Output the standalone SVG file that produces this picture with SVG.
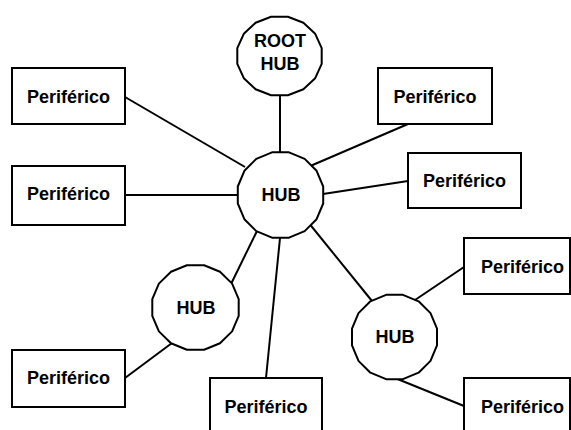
<svg xmlns="http://www.w3.org/2000/svg" width="571" height="430" viewBox="0 0 571 430">
<style>
.box{fill:#fff;stroke:#000;stroke-width:2}
.hub{fill:#fff;stroke:#000;stroke-width:2;stroke-linejoin:round}
.lbl{font-family:"Liberation Sans",Arial,sans-serif;font-weight:bold;font-size:18px;text-anchor:middle;fill:#000}
.edge{stroke:#000;stroke-width:2;fill:none}
</style>
<rect width="571" height="430" fill="#fff"/>
<g id="connectors">
<line class="edge" x1="280" y1="95" x2="280" y2="152"/>
<line class="edge" x1="125" y1="97" x2="245" y2="167"/>
<line class="edge" x1="125" y1="195" x2="238" y2="195"/>
<line class="edge" x1="308" y1="167" x2="408" y2="124"/>
<line class="edge" x1="323" y1="194" x2="408" y2="181"/>
<line class="edge" x1="257" y1="231" x2="231" y2="284"/>
<line class="edge" x1="280" y1="238" x2="266" y2="378"/>
<line class="edge" x1="308" y1="222" x2="372" y2="301"/>
<line class="edge" x1="415" y1="300" x2="464" y2="267"/>
<line class="edge" x1="395" y1="378" x2="464" y2="406"/>
<line class="edge" x1="172" y1="343" x2="125" y2="378"/>
</g>
<g id="roothub">
<polygon class="hub" points="321.7,63.8 315.2,78.2 303.4,89.2 287.9,95.2 271.1,95.2 255.6,89.2 243.8,78.2 237.3,63.8 237.3,48.2 243.8,33.8 255.6,22.8 271.1,16.8 287.9,16.8 303.4,22.8 315.2,33.8 321.7,48.2"/>
<text class="lbl" x="280" y="47">ROOT</text>
<text class="lbl" x="280" y="70">HUB</text>
</g>
<g id="hub-main">
<polygon class="hub" points="323.2,203.5 316.6,219.2 304.7,231.1 289,237.7 272,237.7 256.3,231.1 244.4,219.2 237.8,203.5 237.8,186.5 244.4,170.8 256.3,158.9 272,152.3 289,152.3 304.7,158.9 316.6,170.8 323.2,186.5"/>
<text class="lbl" x="281" y="201">HUB</text>
</g>
<g id="hub-left">
<polygon class="hub" points="238.7,315.9 232.1,331.4 220,343.2 204.1,349.7 186.9,349.7 171,343.2 158.9,331.4 152.3,315.9 152.3,299.1 158.9,283.6 171,271.8 186.9,265.3 204.1,265.3 220,271.8 232.1,283.6 238.7,299.1"/>
<text class="lbl" x="196" y="313.5">HUB</text>
</g>
<g id="hub-right">
<polygon class="hub" points="437,345.4 430.5,360.9 418.6,372.7 402.9,379.2 386.1,379.2 370.4,372.7 358.5,360.9 352,345.4 352,328.6 358.5,313.1 370.4,301.3 386.1,294.8 402.9,294.8 418.6,301.3 430.5,313.1 437,328.6"/>
<text class="lbl" x="395" y="342.5">HUB</text>
</g>
<g id="p1"><rect class="box" x="12" y="68" width="113" height="56"/><text class="lbl" x="68.5" y="103">Periférico</text></g>
<g id="p2"><rect class="box" x="12" y="166" width="113" height="59"/><text class="lbl" x="68.5" y="200">Periférico</text></g>
<g id="p3"><rect class="box" x="378" y="68" width="114" height="56"/><text class="lbl" x="435" y="103">Periférico</text></g>
<g id="p4"><rect class="box" x="408" y="153" width="113" height="55"/><text class="lbl" x="464.5" y="187">Periférico</text></g>
<g id="p5"><rect class="box" x="12" y="350" width="113" height="57"/><text class="lbl" x="68.5" y="384">Periférico</text></g>
<g id="p6"><rect class="box" x="210" y="378" width="112" height="60"/><text class="lbl" x="266" y="413">Periférico</text></g>
<g id="p7"><rect class="box" x="464" y="238" width="106" height="56"/><text class="lbl" x="522.5" y="273">Periférico</text></g>
<g id="p8"><rect class="box" x="464" y="378" width="106" height="60"/><text class="lbl" x="522.5" y="413">Periférico</text></g>
</svg>
